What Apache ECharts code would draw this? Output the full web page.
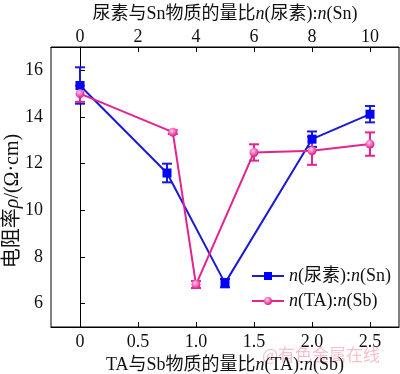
<!DOCTYPE html>
<html><head><meta charset="utf-8">
<script src="https://cdn.jsdelivr.net/npm/echarts@6/dist/echarts.min.js"></script>
<style>html,body{margin:0;padding:0;background:#fff}#c{width:400px;height:374px}</style>
</head><body><div id="c"></div>
<script>
// Data
const bottomTicks = [0, 0.5, 1.0, 1.5, 2.0, 2.5];
const topTicks = [0, 2, 4, 6, 8, 10];
const yTicks = [6, 8, 10, 12, 14, 16];
// Series 1: n(尿素):n(Sn) (x in TA-scale units: top value / 4)
const ureaX = [0, 0.75, 1.25, 2.0, 2.5];
const ureaY = [15.35, 11.6, 6.88, 13.05, 14.12];
const ureaErr = [0.78, 0.4, 0.18, 0.33, 0.35];
// Series 2: n(TA):n(Sb)
const taX = [0, 0.8, 1.0, 1.5, 2.0, 2.5];
const taY = [15.0, 13.35, 6.82, 12.48, 12.55, 12.84];
const taErr = [0.35, 0.08, 0.15, 0.35, 0.6, 0.5];

const BLUE = '#1a1ad6', PINK = '#e3238f';
const FONT = '"Liberation Serif","Noto Sans CJK SC",serif';
const FS = 18;
const it = {fontStyle:'italic', fontFamily: FONT, fontSize: FS, color:'#111'};

function errSeries(xs, ys, es, color) {
  return {
    type: 'custom', silent: true, z: 3,
    data: xs.map((x,i)=>[x, ys[i]-es[i], ys[i]+es[i]]),
    renderItem: function(params, api) {
      const lo = api.coord([api.value(0), api.value(1)]);
      const hi = api.coord([api.value(0), api.value(2)]);
      const w = 5;
      const st = {stroke: color, lineWidth: 2};
      return {type:'group', children:[
        {type:'line', shape:{x1:lo[0],y1:lo[1],x2:hi[0],y2:hi[1]}, style:st},
        {type:'line', shape:{x1:lo[0]-w,y1:lo[1],x2:lo[0]+w,y2:lo[1]}, style:st},
        {type:'line', shape:{x1:hi[0]-w,y1:hi[1],x2:hi[0]+w,y2:hi[1]}, style:st}
      ]};
    }
  };
}

const chart = echarts.init(document.getElementById('c'));
const axLine = {lineStyle:{color:'#000', width:1}};
chart.setOption({
  animation: false,
  backgroundColor: '#fff',
  textStyle: {fontFamily: FONT},
  grid: {left: 51, right: 1, top: 47, bottom: 47, show: true, borderColor:'#000', borderWidth:1,
         outerBoundsMode: 'none', containLabel: false},
  legend: {
    orient: 'vertical', right: 4, top: 262, itemGap: 7, itemWidth: 32, itemHeight: 10,
    data: ['n(尿素):n(Sn)', 'n(TA):n(Sb)'],
    formatter: function(name){
      return name === 'n(尿素):n(Sn)' ? '{i|n}(尿素):{i|n}(Sn)' : '{i|n}(TA):{i|n}(Sb)';
    },
    textStyle: {fontFamily: FONT, fontSize: FS, color:'#111', rich:{i: it}}
  },
  xAxis: [{
    type:'value', position:'bottom', min:-0.25, max:2.75,
    axisLine: axLine, splitLine:{show:false},
    axisTick:{show:true, inside:true, length:5, customValues: bottomTicks, lineStyle:{color:'#000'}},
    axisLabel:{customValues: bottomTicks, fontSize:FS, color:'#111', fontFamily:FONT, margin:6,
      formatter: v => v === 0 ? '0' : v.toFixed(1)},
    name: 'TA与Sb物质的量比{i|n}(TA):{i|n}(Sb)', nameLocation:'middle', nameGap: 29,
    nameTextStyle:{fontSize:FS, color:'#111', fontFamily:FONT, rich:{i: it}}
  },{
    type:'value', position:'top', min:-1, max:11,
    axisLine: axLine, splitLine:{show:false},
    axisTick:{show:true, inside:true, length:5, customValues: topTicks, lineStyle:{color:'#000'}},
    axisLabel:{customValues: topTicks, fontSize:FS, color:'#111', fontFamily:FONT, margin:1},
    name: '尿素与Sn物质的量比{i|n}(尿素):{i|n}(Sn)', nameLocation:'middle', nameGap: 17,
    nameTextStyle:{fontSize:FS, color:'#111', fontFamily:FONT, rich:{i: it}}
  }],
  yAxis: {
    type:'value', min:5, max:17,
    axisLine: axLine, splitLine:{show:false},
    axisTick:{show:true, inside:true, length:5, customValues: yTicks, lineStyle:{color:'#000'}},
    axisLabel:{customValues: yTicks, fontSize:FS, color:'#111', fontFamily:FONT, margin:8}
  },
  series: [
    errSeries(ureaX, ureaY, ureaErr, BLUE),
    errSeries(taX, taY, taErr, PINK),
    {name:'n(尿素):n(Sn)', type:'line', z:4, data: ureaX.map((x,i)=>[x, ureaY[i]]),
     symbol:'rect', symbolSize:9, lineStyle:{color:BLUE, width:2}, itemStyle:{color:'#0000ff'}},
    {name:'n(TA):n(Sb)', type:'line', z:4, data: taX.map((x,i)=>[x, taY[i]]),
     symbol:'circle', symbolSize:9, lineStyle:{color:PINK, width:2},
     itemStyle:{color:{type:'radial', x:0.4, y:0.35, r:0.6, colorStops:[{offset:0,color:'#ffc8ec'},{offset:1,color:PINK}]}}}
  ],
  graphic: [
    {type:'text', x: 13, y: 201, rotation: Math.PI/2, silent:true,
     style:{text:'电阻率{i|ρ}/(Ω·cm)', align:'center', verticalAlign:'middle', fontSize:20, fill:'#111',
            fontFamily:FONT, rich:{i:{fontStyle:'italic', fontFamily:FONT, fontSize:20, fill:'#111'}}}},
    {type:'text', left: 262, top: 346, silent:true,
     style:{text:'@有色金属在线', fontSize:17, fill:'rgba(240,140,160,0.55)', fontFamily:'"Noto Sans CJK SC",sans-serif'}}
  ]
});
</script></body></html>
